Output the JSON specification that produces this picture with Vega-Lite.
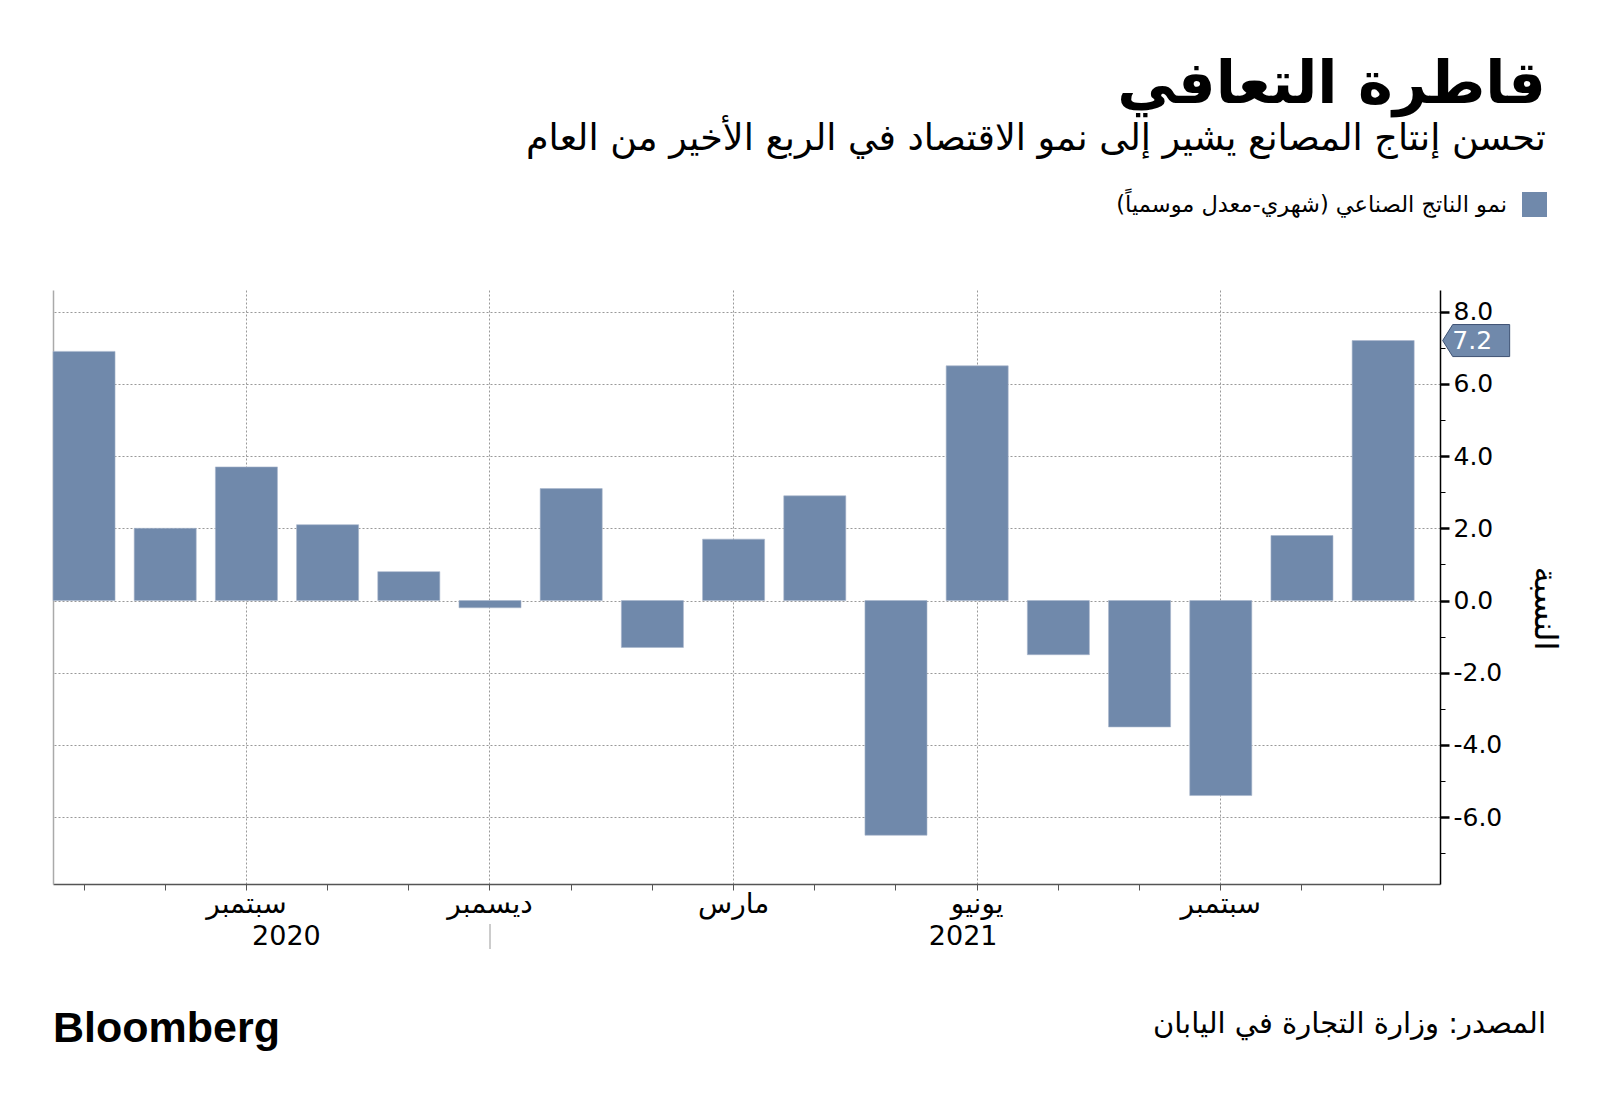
{
  "$schema": "https://vega.github.io/schema/vega-lite/v6.json",
  "autosize": {"type": "none"},
  "width": 1387,
  "height": 594,
  "padding": {"left": 53, "top": 290, "right": 160, "bottom": 224},
  "background": "white",
  "config": {"view": {"stroke": null}, "font": "DejaVu Sans"},
  "title": {
    "text": "قاطرة التعافي",
    "subtitle": "تحسن إنتاج المصانع يشير إلى نمو الاقتصاد في الربع الأخير من العام",
    "anchor": "end",
    "frame": "group",
    "dx": 106,
    "offset": 35,
    "font": "DejaVu Sans",
    "fontSize": 59,
    "fontWeight": "bold",
    "color": "#000000",
    "subtitleFont": "DejaVu Sans",
    "subtitleFontSize": 36.5,
    "subtitleColor": "#000000",
    "subtitlePadding": 6
  },
  "data": {
    "values": [
      {"month": "2020-07", "value": 6.9},
      {"month": "2020-08", "value": 2.0},
      {"month": "2020-09", "value": 3.7},
      {"month": "2020-10", "value": 2.1},
      {"month": "2020-11", "value": 0.8},
      {"month": "2020-12", "value": -0.2},
      {"month": "2021-01", "value": 3.1},
      {"month": "2021-02", "value": -1.3},
      {"month": "2021-03", "value": 1.7},
      {"month": "2021-04", "value": 2.9},
      {"month": "2021-05", "value": -6.5},
      {"month": "2021-06", "value": 6.5},
      {"month": "2021-07", "value": -1.5},
      {"month": "2021-08", "value": -3.5},
      {"month": "2021-09", "value": -5.4},
      {"month": "2021-10", "value": 1.8},
      {"month": "2021-11", "value": 7.2}
    ]
  },
  "resolve": {"axis": {"y": "independent"}},
  "layer": [
    {
      "mark": {"type": "bar", "stroke": "#a7b6cb", "strokeWidth": 0.6},
      "encoding": {
        "x": {
          "field": "month",
          "type": "ordinal",
          "sort": null,
          "scale": {
            "domain": ["2020-07","2020-08","2020-09","2020-10","2020-11","2020-12","2021-01","2021-02","2021-03","2021-04","2021-05","2021-06","2021-07","2021-08","2021-09","2021-10","2021-11"],
            "paddingInner": 0.236,
            "paddingOuter": 0.159,
            "align": 0
          },
          "axis": {
            "title": null,
            "labelAngle": 0,
            "labelExpr": "datum.value == '2020-09' || datum.value == '2021-09' ? 'سبتمبر' : datum.value == '2020-12' ? 'ديسمبر' : datum.value == '2021-03' ? 'مارس' : datum.value == '2021-06' ? 'يونيو' : ''",
            "labelFont": "DejaVu Sans",
            "labelFontSize": 28,
            "labelColor": "#000000",
            "labelPadding": 0,
            "labelBaseline": "top",
            "domainColor": "#555555",
            "domainWidth": 1.5,
            "tickColor": "#555555",
            "tickSize": 6,
            "tickWidth": 1,
            "grid": true,
            "gridColor": "#999999",
            "gridDash": [2, 2],
            "gridWidth": 1,
            "gridOpacity": {
              "condition": {"test": "indexof(['2020-09','2020-12','2021-03','2021-06','2021-09'], datum.value) >= 0", "value": 1},
              "value": 0
            }
          }
        },
        "y": {
          "field": "value",
          "type": "quantitative",
          "scale": {"domain": [-7.85, 8.6], "nice": false, "zero": false},
          "axis": {
            "orient": "right",
            "title": "النسبة",
            "titleAngle": 90,
            "titleFont": "DejaVu Sans",
            "titleFontSize": 32,
            "titleFontWeight": "normal",
            "titleColor": "#000000",
            "titleX": 104,
            "titleY": 318,
            "titleAlign": "center",
            "titleBaseline": "middle",
            "values": [-7,-6,-5,-4,-3,-2,-1,0,1,2,3,4,5,6,7,8],
            "labelExpr": "datum.value % 2 == 0 ? replace(format(datum.value, '.1f'), '−', '-') : ''",
            "labelFont": "DejaVu Sans",
            "labelFontSize": 25,
            "labelColor": "#000000",
            "labelPadding": 4,
            "labelBaseline": "middle",
            "domainColor": "#000000",
            "domainWidth": 1.5,
            "tickColor": "#000000",
            "tickSize": {"condition": {"test": "datum.value % 2 == 0", "value": 9}, "value": 5},
            "tickWidth": {"condition": {"test": "datum.value % 2 == 0", "value": 2.5}, "value": 1},
            "grid": true,
            "gridColor": "#999999",
            "gridDash": [2, 2],
            "gridWidth": 1,
            "gridOpacity": {"condition": {"test": "datum.value % 2 == 0", "value": 1}, "value": 0}
          }
        },
        "color": {
          "datum": "‏نمو الناتج الصناعي (شهري-معدل موسمياً)‏",
          "type": "nominal",
          "scale": {"range": ["#7089ab"]},
          "legend": {
            "orient": "none",
            "legendX": 1469,
            "legendY": -98,
            "title": null,
            "padding": 0,
            "symbolType": "square",
            "symbolSize": 625,
            "symbolStrokeWidth": 0,
            "symbolOpacity": 1,
            "labelFont": "DejaVu Sans",
            "labelFontSize": 22.5,
            "labelColor": "#000000",
            "labelAlign": "right",
            "labelOffset": -40,
            "labelLimit": 0
          }
        }
      }
    },
    {
      "transform": [{"filter": "datum.month == '2021-11'"}],
      "mark": {
        "type": "point",
        "shape": "M -1 0 L -0.7 -0.478 L 1 -0.478 L 1 0.478 L -0.7 0.478 Z",
        "size": 4489,
        "filled": true,
        "fill": "#7089ab",
        "stroke": "#3e5273",
        "strokeWidth": 1,
        "opacity": 1,
        "xOffset": 93
      },
      "encoding": {
        "x": {"field": "month", "type": "ordinal", "sort": null},
        "y": {
          "field": "value",
          "type": "quantitative",
          "axis": {"orient": "left", "labels": false, "ticks": false, "grid": false, "title": null, "domainColor": "#aaaaaa", "domainWidth": 1.5}
        }
      }
    },
    {
      "transform": [{"filter": "datum.month == '2021-11'"}],
      "mark": {"type": "text", "font": "DejaVu Sans", "fontSize": 25, "color": "#ffffff", "align": "center", "baseline": "middle", "xOffset": 89},
      "encoding": {
        "x": {"field": "month", "type": "ordinal", "sort": null},
        "y": {"field": "value", "type": "quantitative", "axis": null},
        "text": {"field": "value", "type": "quantitative", "format": ".1f"}
      }
    },
    {
      "data": {"values": [{"month": "2020-09", "year": "2020"}]},
      "mark": {"type": "text", "font": "DejaVu Sans", "fontSize": 27, "color": "#000000", "align": "center", "baseline": "alphabetic", "dx": 40, "y": 655},
      "encoding": {
        "x": {"field": "month", "type": "ordinal", "sort": null},
        "text": {"field": "year", "type": "nominal"}
      }
    },
    {
      "data": {"values": [{"month": "2021-06", "year": "2021"}]},
      "mark": {"type": "text", "font": "DejaVu Sans", "fontSize": 27, "color": "#000000", "align": "center", "baseline": "alphabetic", "dx": -14, "y": 655},
      "encoding": {
        "x": {"field": "month", "type": "ordinal", "sort": null},
        "text": {"field": "year", "type": "nominal"}
      }
    },
    {
      "data": {"values": [{"month": "2020-12"}]},
      "mark": {"type": "rule", "color": "#999999", "strokeWidth": 1, "y": 634, "y2": 659},
      "encoding": {
        "x": {"field": "month", "type": "ordinal", "sort": null}
      }
    },
    {
      "data": {"values": [{"label": "Bloomberg"}]},
      "mark": {"type": "text", "font": "Liberation Sans", "fontWeight": "bold", "fontSize": 43, "letterSpacing": -1.3, "color": "#000000", "align": "left", "baseline": "alphabetic", "x": 0, "y": 752},
      "encoding": {"text": {"field": "label", "type": "nominal"}}
    },
    {
      "data": {"values": [{"label": "المصدر: وزارة التجارة في اليابان"}]},
      "mark": {"type": "text", "font": "DejaVu Sans", "fontSize": 29, "color": "#000000", "align": "right", "baseline": "alphabetic", "x": 1493, "y": 743},
      "encoding": {"text": {"field": "label", "type": "nominal"}}
    }
  ]
}
